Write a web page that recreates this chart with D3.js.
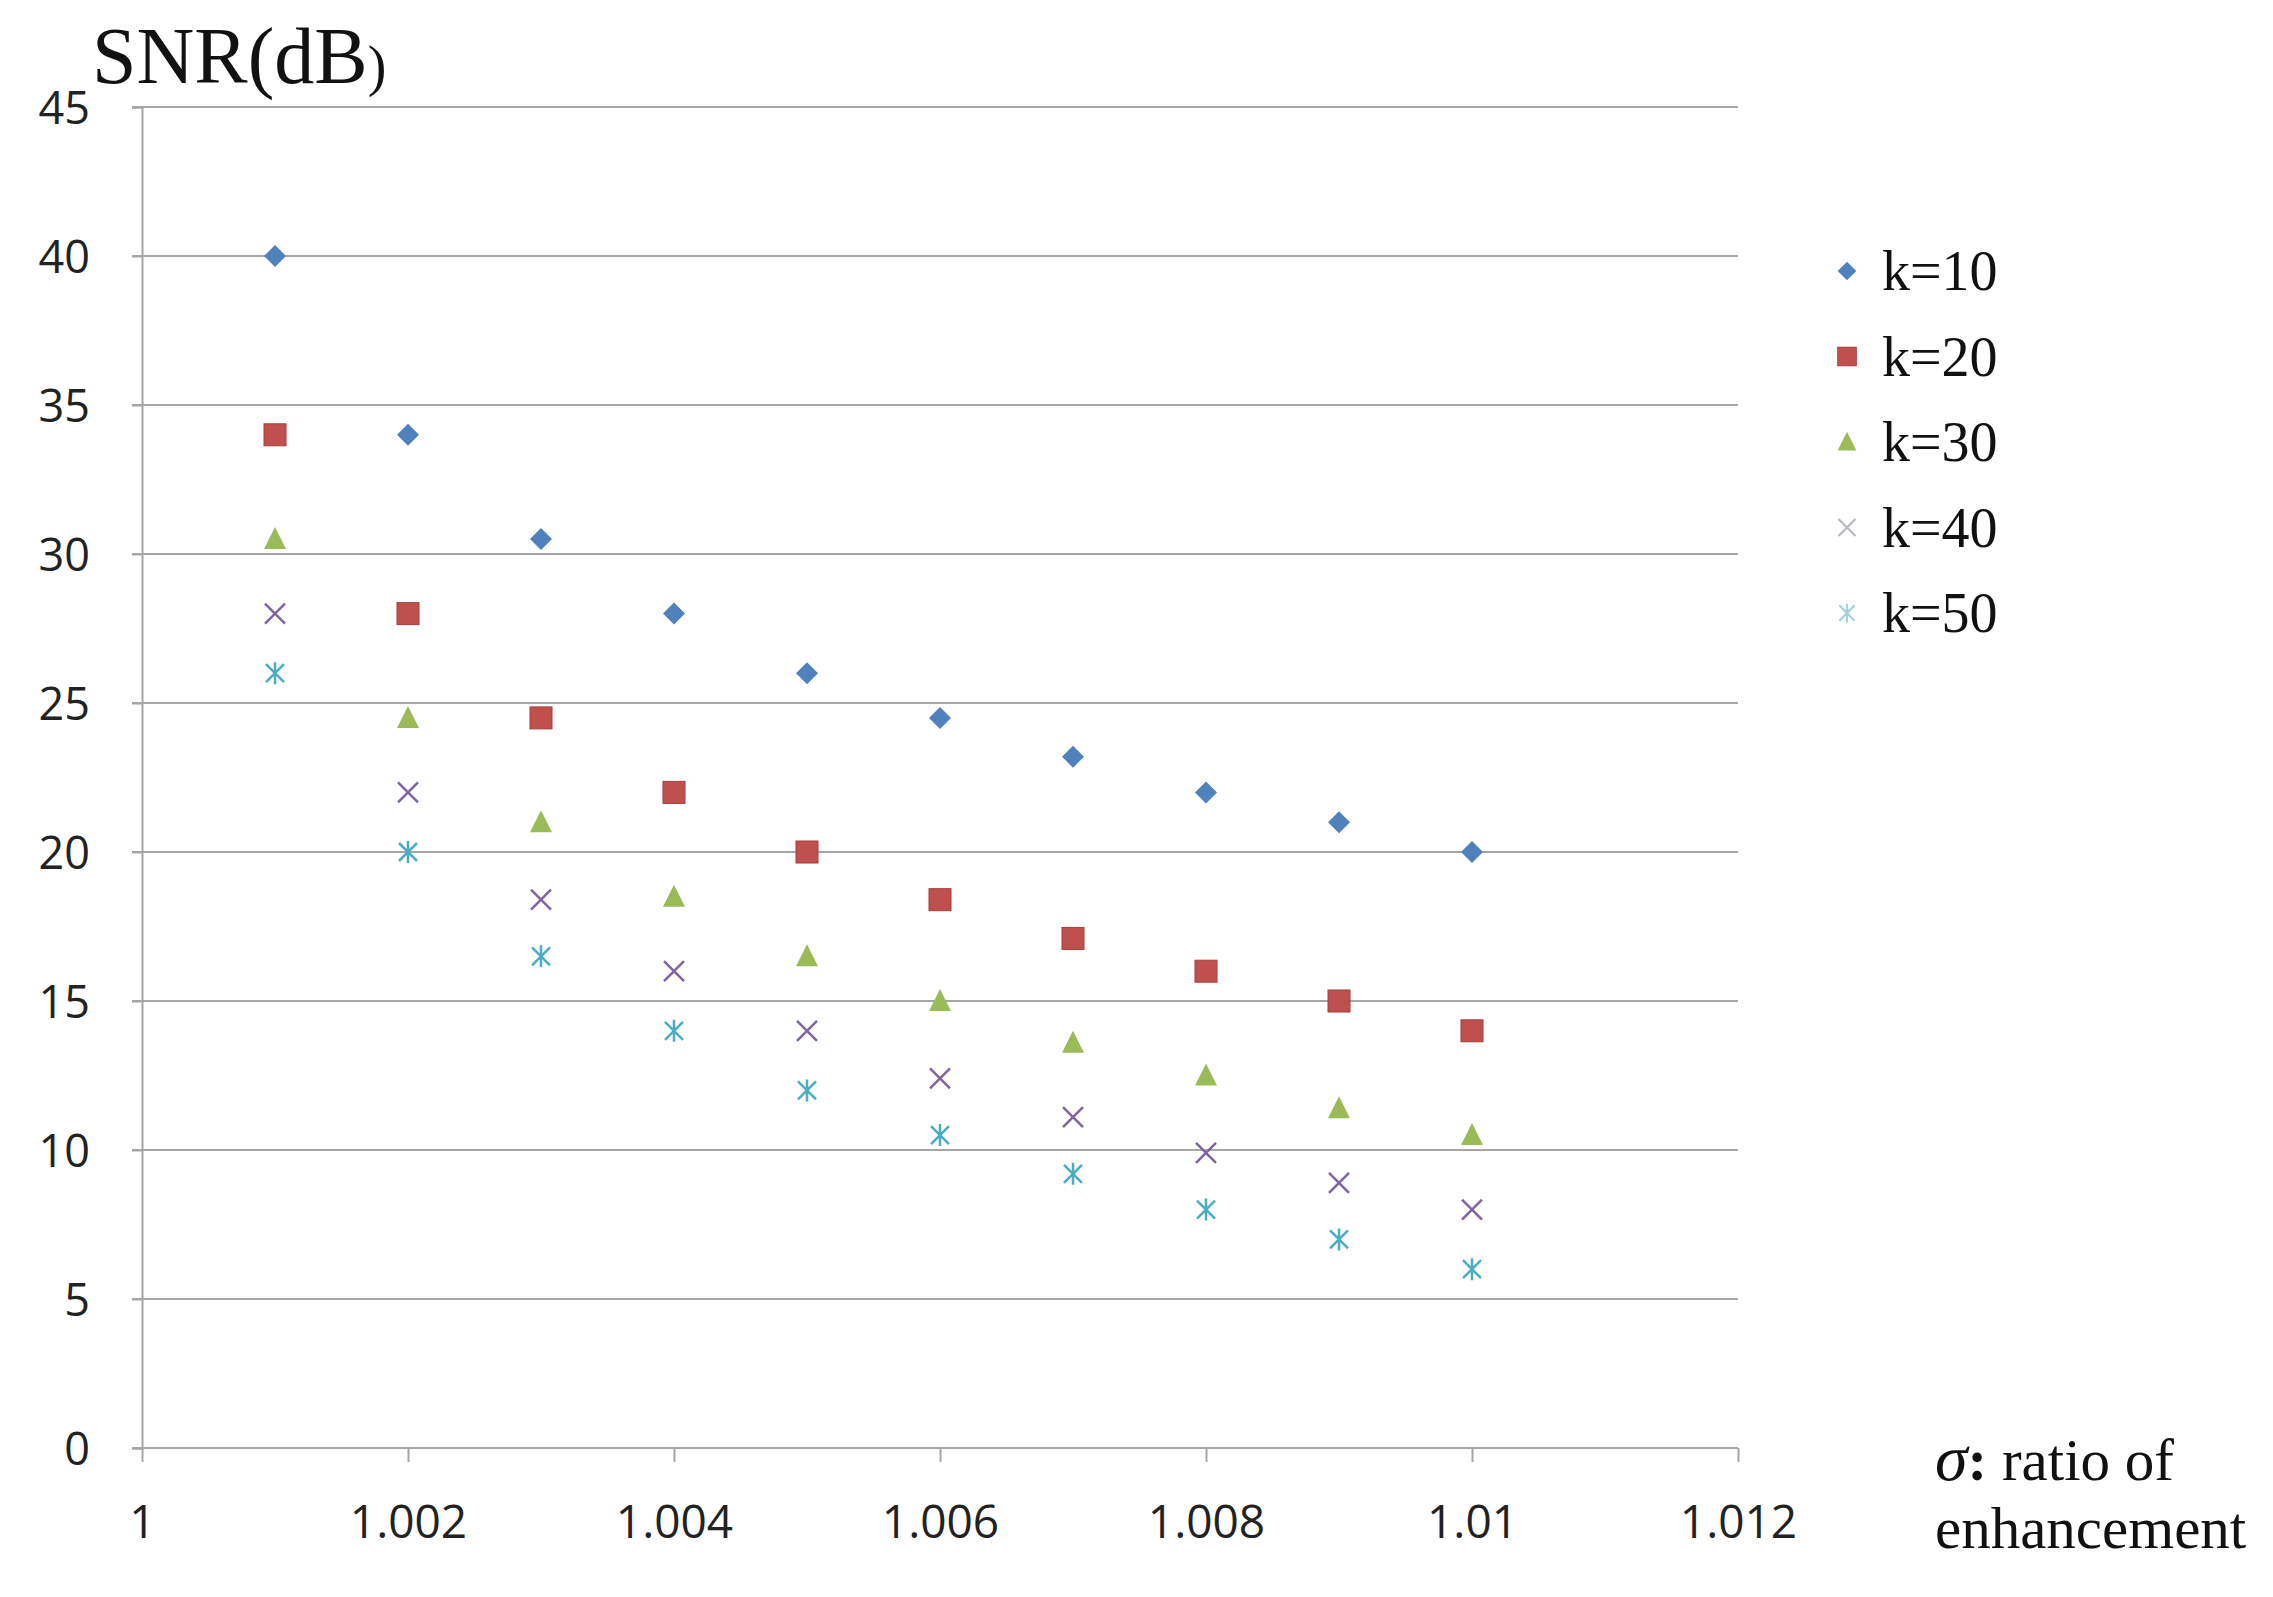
<!DOCTYPE html>
<html>
<head>
<meta charset="utf-8">
<script src="https://cdn.jsdelivr.net/npm/d3@7"></script>
<style>
  body { margin: 0; background: #fff; }
  .tick text { font-family: "Open Sans", sans-serif; fill: #222; }
</style>
</head>
<body>
<svg width="2273" height="1597"></svg>
<script>
var sigma = [1.001, 1.002, 1.003, 1.004, 1.005, 1.006, 1.007, 1.008, 1.009, 1.010];
var k10 = [40, 34, 30.5, 28, 26, 24.5, 23.2, 22, 21, 20];
var k20 = [34, 28, 24.5, 22, 20, 18.4, 17.1, 16, 15, 14];
var k30 = [30.5, 24.5, 21, 18.5, 16.5, 15, 13.6, 12.5, 11.4, 10.5];
var k40 = [28, 22, 18.4, 16, 14, 12.4, 11.1, 9.9, 8.9, 8];
var k50 = [26, 20, 16.5, 14, 12, 10.5, 9.2, 8, 7, 6];
var seriesNames = ["k=10", "k=20", "k=30", "k=40", "k=50"];
var xTicks = [1, 1.002, 1.004, 1.006, 1.008, 1.01, 1.012];
var yTicks = [0, 5, 10, 15, 20, 25, 30, 35, 40, 45];

var series = [k10, k20, k30, k40, k50].map(function(v, i) {
  return { name: seriesNames[i], values: v };
});

var colors = ["#4f81bd", "#c0504d", "#9bbb59", "#8064a2", "#4bacc6"];
var shapes = ["diamond", "square", "triangle", "x", "star"];

var svg = d3.select("svg"),
    margin = {left: 142, right: 535, top: 107, bottom: 149},
    width = +svg.attr("width") - margin.left - margin.right,
    height = +svg.attr("height") - margin.top - margin.bottom,
    g = svg.append("g").attr("transform", "translate(" + margin.left + "," + margin.top + ")");

var x = d3.scaleLinear().domain([1, 1.012]).range([0, width]);
var y = d3.scaleLinear().domain([0, 45]).range([height, 0]);

// gridlines
g.append("g").selectAll("line")
  .data(yTicks.filter(function(d) { return d > 0; }))
  .enter().append("line")
    .attr("x1", -10).attr("x2", width)
    .attr("y1", y).attr("y2", y)
    .attr("stroke", "#a6a6a6").attr("stroke-width", 2);

var yAxis = g.append("g")
    .call(d3.axisLeft(y).tickValues(yTicks).tickSize(10).tickPadding(42).tickFormat(d3.format("d")));
yAxis.select(".domain").attr("stroke", "#a6a6a6").attr("stroke-width", 2);
yAxis.selectAll(".tick line").attr("stroke", "#a6a6a6").attr("stroke-width", 2);
yAxis.selectAll(".tick text").attr("font-size", 45).attr("dy", "0.36em");

var xAxis = g.append("g")
    .attr("transform", "translate(0," + height + ")")
    .call(d3.axisBottom(x).tickValues(xTicks).tickSize(14).tickPadding(43)
      .tickFormat(function(d) { return +d.toFixed(3) + ""; }));
xAxis.select(".domain").attr("stroke", "#a6a6a6").attr("stroke-width", 2).attr("d", "M-10,0H" + width);
xAxis.selectAll(".tick line").attr("stroke", "#a6a6a6").attr("stroke-width", 2);
xAxis.selectAll(".tick text").attr("font-size", 46);

function drawMarker(sel, shape, color) {
  if (shape === "diamond") {
    sel.append("path").attr("d", "M0,-11L11,0L0,11L-11,0Z").attr("fill", color);
  } else if (shape === "square") {
    sel.append("rect").attr("x", -11).attr("y", -11).attr("width", 22).attr("height", 22)
      .attr("fill", color).attr("stroke", "#a33f3c").attr("stroke-width", 1);
  } else if (shape === "triangle") {
    sel.append("path").attr("d", "M0,-12L11,10L-11,10Z").attr("fill", color);
  } else if (shape === "x") {
    sel.append("path").attr("d", "M-10,-10L10,10M10,-10L-10,10")
      .attr("stroke", color).attr("stroke-width", 2.5).attr("fill", "none");
  } else {
    sel.append("path").attr("d", "M-9,-9L9,9M9,-9L-9,9M0,-11V11")
      .attr("stroke", color).attr("stroke-width", 2.5).attr("fill", "none");
  }
}

series.forEach(function(s, i) {
  g.append("g").selectAll("g")
    .data(s.values)
    .enter().append("g")
      .attr("transform", function(d, j) { return "translate(" + x(sigma[j]) + "," + y(d) + ")"; })
      .each(function() { drawMarker(d3.select(this), shapes[i], colors[i]); });
});

// legend
var legend = svg.append("g").attr("transform", "translate(1847,271)");
series.forEach(function(s, i) {
  var row = legend.append("g").attr("transform", "translate(0," + i * 85.5 + ")");
  var m = row.append("g").attr("transform", "scale(0.85)");
  drawMarker(m, shapes[i], i === 3 ? "#b8b8c0" : (i === 4 ? "#9ed3e0" : colors[i]));
  row.append("text")
    .attr("x", 35).attr("y", 19)
    .attr("font-family", "Liberation Serif, serif")
    .attr("font-size", 56)
    .attr("fill", "#111")
    .text(s.name);
});

// y title
var yt = svg.append("text")
    .attr("x", 92).attr("y", 83)
    .attr("font-family", "Liberation Serif, serif")
    .attr("font-size", 80)
    .attr("fill", "#111");
yt.append("tspan").text("SNR(dB");
yt.append("tspan").attr("font-size", 56).attr("dy", 2).text(")");

// x title
var xt = svg.append("text")
    .attr("x", 1935).attr("y", 1480)
    .attr("font-family", "Liberation Serif, serif")
    .attr("font-size", 59)
    .attr("fill", "#111");
xt.append("tspan").attr("font-style", "italic").attr("font-size", 66).text("σ");
xt.append("tspan").attr("font-weight", "bold").text(": ");
xt.append("tspan").text("ratio of");
svg.append("text")
    .attr("x", 1935).attr("y", 1548)
    .attr("font-family", "Liberation Serif, serif")
    .attr("font-size", 59)
    .attr("fill", "#111")
    .text("enhancement");
</script>
</body>
</html>
